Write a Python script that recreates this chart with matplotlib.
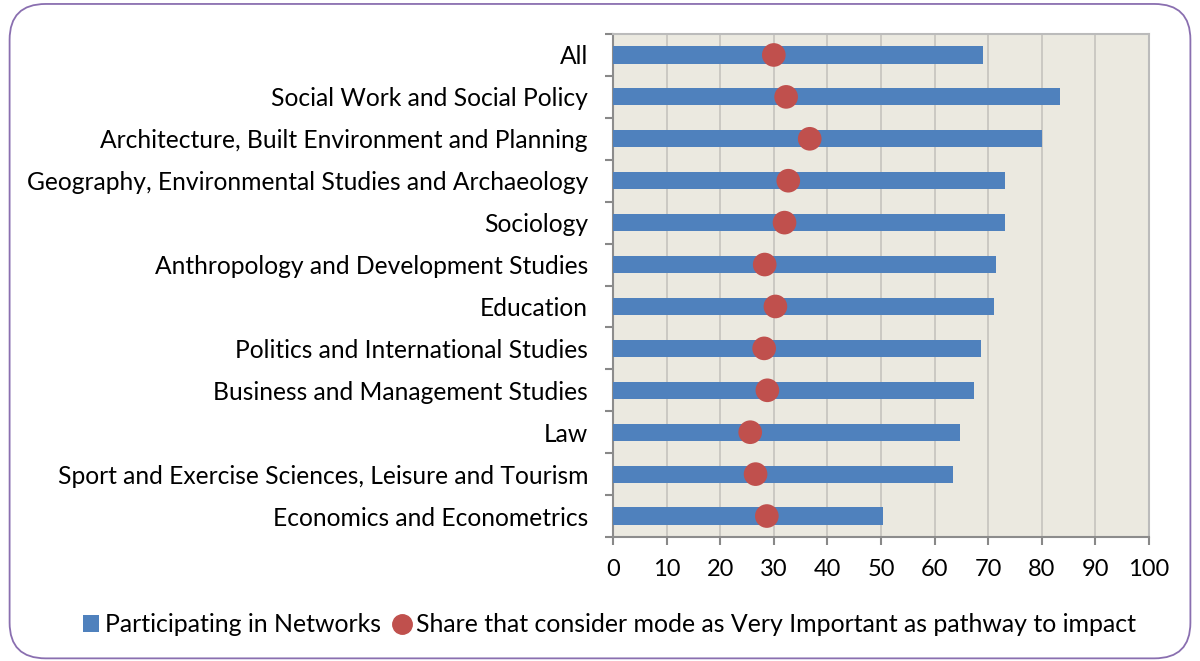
import matplotlib
matplotlib.use("Agg")
import matplotlib.pyplot as plt
import numpy as np
from matplotlib.patches import FancyBboxPatch
from matplotlib.lines import Line2D
from matplotlib.patches import Patch

plt.rcParams['font.family'] = ['Lato', 'DejaVu Sans']

categories = ["All", "Social Work and Social Policy",
              "Architecture, Built Environment and Planning",
              "Geography, Environmental Studies and Archaeology",
              "Sociology", "Anthropology and Development Studies",
              "Education", "Politics and International Studies",
              "Business and Management Studies", "Law",
              "Sport and Exercise Sciences, Leisure and Tourism",
              "Economics and Econometrics"]
participating = [69.1, 83.4, 80.0, 73.2, 73.1, 71.5, 71.1, 68.7, 67.3, 64.7, 63.4, 50.4]
very_important = [30.0, 32.3, 36.7, 32.7, 32.0, 28.3, 30.3, 28.2, 28.8, 25.6, 26.6, 28.7]
xticks = list(range(0, 101, 10))

fig = plt.figure(figsize=(12, 6.61), dpi=100)
fig.patches.append(FancyBboxPatch((0.008, 0.004), 0.984, 0.99, boxstyle="round,pad=0,rounding_size=0.03",
                                  transform=fig.transFigure, fill=False, edgecolor="#8A6FB0",
                                  linewidth=1.3, mutation_aspect=1.8))
ax = fig.add_axes([613/1200, 1 - 537/661, (1149-613)/1200, (537-34)/661])
ax.set_facecolor("#EBE9E0")

n = len(categories)
y = np.arange(n)[::-1]
ax.barh(y, participating, height=0.41, color="#4F81BD", zorder=3)
ax.scatter(very_important, y, s=290, color="#C0504D", zorder=4, edgecolors="none")

ax.set_xlim(0, 100)
ax.set_ylim(-0.5, n - 0.5)
ax.set_xticks(xticks)
ax.set_xticklabels([str(t) for t in xticks], fontsize=17)
ax.set_yticks(y)
ax.set_yticklabels(categories, fontsize=17.7)
ax.set_yticks(np.arange(-0.5, n, 1), minor=True)
ax.tick_params(axis='y', which='major', length=0, pad=18)
ax.tick_params(axis='y', which='minor', length=6, color="#888888", width=1.5)
ax.tick_params(axis='x', which='major', length=6, color="#888888", width=1.5, pad=10)
ax.grid(axis='x', color="#C8C6C0", linewidth=1.3, zorder=0)
for s in ['left', 'bottom', 'right', 'top']:
    ax.spines[s].set_color("#8C8C8C")
    ax.spines[s].set_linewidth(1.5)
ax.spines['top'].set_color("#BBBBBB")
ax.spines['right'].set_color("#BBBBBB")

handles = [Patch(facecolor="#4F81BD", edgecolor="none"),
           Line2D([], [], marker='o', linestyle='none', markersize=14, color="#C0504D")]
fig.legend(handles, ["Participating in Networks",
                     "Share that consider mode as Very Important as pathway to impact"],
           loc='center', bbox_to_anchor=(0.508, 1 - 625/661), ncol=2, frameon=False,
           fontsize=17.9, handlelength=0.65, handletextpad=0.25, columnspacing=0.5,
           handleheight=0.65)

fig.savefig("out.png", dpi=100)
